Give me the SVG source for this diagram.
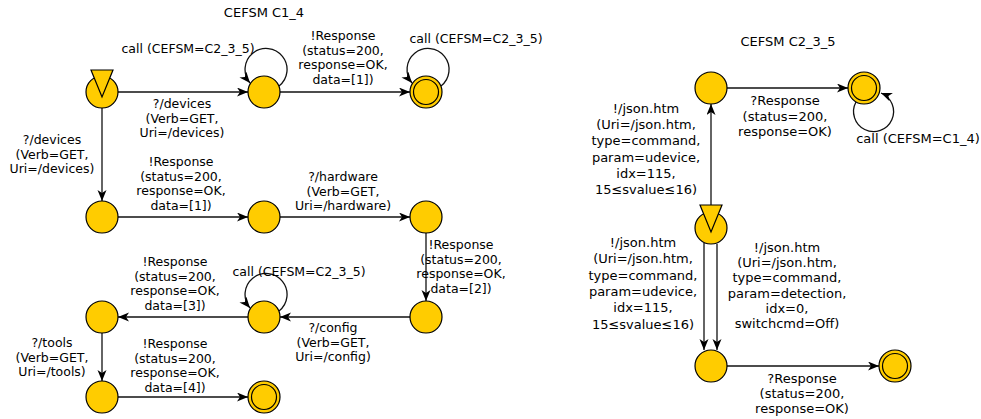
<svg xmlns="http://www.w3.org/2000/svg" width="981" height="419" viewBox="0 0 981 419">
  <style>
    .st { fill: #FFCC00; stroke: #000; stroke-width: 1.2; }
    .fin { fill: none; stroke: #000; stroke-width: 1.2; }
    .init { fill: #FFCC00; stroke: #000; stroke-width: 1.2; stroke-linejoin: miter; }
    .e { fill: none; stroke: #111; stroke-width: 1.3; marker-end: url(#arr); }
    text { font-family: "DejaVu Sans", "Liberation Sans", sans-serif; fill: #000; text-anchor: middle; }
    .t { font-size: 13px; }
    .l { font-size: 12.5px; }
    .r { font-size: 13px; }
  </style>
  <defs>
    <marker id="arr" markerUnits="userSpaceOnUse" markerWidth="12" markerHeight="10" refX="11" refY="4.5" orient="auto">
      <path d="M0,0 L11,4.5 L0,9 L3,4.5 z" fill="#000"/>
    </marker>
  </defs>
  <rect width="981" height="419" fill="#fff"/>

  <!-- titles -->
  <text class="t" x="264" y="17">CEFSM C1_4</text>
  <text class="t" x="788" y="46">CEFSM C2_3_5</text>

  <!-- connectors -->
  <g id="connectors">
    <!-- C1_4 -->
    <path class="e" d="M118,92 L248,92"/>
    <path class="e" d="M280,92 L410,92"/>
    <path class="e" d="M279,86 A21,21 0 1 0 250,83"/>
    <path class="e" d="M441,86 A21,21 0 1 0 412,83"/>
    <path class="e" d="M102,108 L102,201"/>
    <path class="e" d="M118,217 L248,217"/>
    <path class="e" d="M280,217 L410,217"/>
    <path class="e" d="M426,233 L426,301"/>
    <path class="e" d="M410,317 L280,317"/>
    <path class="e" d="M279,311 A21,21 0 1 0 250,308"/>
    <path class="e" d="M248,317 L118,317"/>
    <path class="e" d="M102,333 L102,381"/>
    <path class="e" d="M118,397 L248,397"/>
    <!-- C2_3_5 -->
    <path class="e" d="M727,88 L848,88"/>
    <path class="e" d="M856,102 A20,20 0 1 0 881,93"/>
    <path class="e" d="M711,212 L711,104"/>
    <path class="e" d="M704,243 L704,350"/>
    <path class="e" d="M717,244 L717,350"/>
    <path class="e" d="M727,366 L879,366"/>
  </g>

  <!-- edge labels, C1_4 -->
  <g id="labels-c1">
    <text class="l"><tspan x="182" y="108">?/devices</tspan><tspan x="182" dy="14.7">(Verb=GET,</tspan><tspan x="182" dy="14.7">Uri=/devices)</tspan></text>
    <text class="l" x="188" y="53">call (CEFSM=C2_3_5)</text>
    <text class="l"><tspan x="343" y="40">!Response</tspan><tspan x="343" dy="14.7">(status=200,</tspan><tspan x="343" dy="14.7">response=OK,</tspan><tspan x="343" dy="14.7">data=[1])</tspan></text>
    <text class="l" x="476" y="43">call (CEFSM=C2_3_5)</text>
    <text class="l"><tspan x="52" y="144">?/devices</tspan><tspan x="52" dy="14.7">(Verb=GET,</tspan><tspan x="52" dy="14.7">Uri=/devices)</tspan></text>
    <text class="l"><tspan x="181" y="166">!Response</tspan><tspan x="181" dy="14.7">(status=200,</tspan><tspan x="181" dy="14.7">response=OK,</tspan><tspan x="181" dy="14.7">data=[1])</tspan></text>
    <text class="l"><tspan x="343" y="181">?/hardware</tspan><tspan x="343" dy="14.7">(Verb=GET,</tspan><tspan x="343" dy="14.7">Uri=/hardware)</tspan></text>
    <text class="l"><tspan x="461" y="249">!Response</tspan><tspan x="461" dy="14.7">(status=200,</tspan><tspan x="461" dy="14.7">response=OK,</tspan><tspan x="461" dy="14.7">data=[2])</tspan></text>
    <text class="l"><tspan x="333" y="332">?/config</tspan><tspan x="333" dy="14.7">(Verb=GET,</tspan><tspan x="333" dy="14.7">Uri=/config)</tspan></text>
    <text class="l" x="299" y="276">call (CEFSM=C2_3_5)</text>
    <text class="l"><tspan x="175" y="266">!Response</tspan><tspan x="175" dy="14.7">(status=200,</tspan><tspan x="175" dy="14.7">response=OK,</tspan><tspan x="175" dy="14.7">data=[3])</tspan></text>
    <text class="l"><tspan x="52" y="347">?/tools</tspan><tspan x="52" dy="14.7">(Verb=GET,</tspan><tspan x="52" dy="14.7">Uri=/tools)</tspan></text>
    <text class="l"><tspan x="175" y="348">!Response</tspan><tspan x="175" dy="14.7">(status=200,</tspan><tspan x="175" dy="14.7">response=OK,</tspan><tspan x="175" dy="14.7">data=[4])</tspan></text>
  </g>

  <!-- edge labels, C2_3_5 -->
  <g id="labels-c2">
    <text class="r"><tspan x="785" y="105">?Response</tspan><tspan x="785" dy="15.5">(status=200,</tspan><tspan x="785" dy="15.5">response=OK)</tspan></text>
    <text class="r" x="918" y="143">call (CEFSM=C1_4)</text>
    <text class="r"><tspan x="646" y="113">!/json.htm</tspan><tspan x="646" dy="16.2">(Uri=/json.htm,</tspan><tspan x="646" dy="16.2">type=command,</tspan><tspan x="646" dy="16.2">param=udevice,</tspan><tspan x="646" dy="16.2">idx=115,</tspan><tspan x="646" dy="16.2">15≤svalue≤16)</tspan></text>
    <text class="r"><tspan x="643" y="247">!/json.htm</tspan><tspan x="643" dy="16.3">(Uri=/json.htm,</tspan><tspan x="643" dy="16.3">type=command,</tspan><tspan x="643" dy="16.3">param=udevice,</tspan><tspan x="643" dy="16.3">idx=115,</tspan><tspan x="643" dy="16.3">15≤svalue≤16)</tspan></text>
    <text class="r"><tspan x="787" y="252">!/json.htm</tspan><tspan x="787" dy="15.2">(Uri=/json.htm,</tspan><tspan x="787" dy="15.2">type=command,</tspan><tspan x="787" dy="15.2">param=detection,</tspan><tspan x="787" dy="15.2">idx=0,</tspan><tspan x="787" dy="15.2">switchcmd=Off)</tspan></text>
    <text class="r"><tspan x="802" y="383">?Response</tspan><tspan x="802" dy="15">(status=200,</tspan><tspan x="802" dy="15">response=OK)</tspan></text>
  </g>

  <!-- states, C1_4 -->
  <g id="c1-s0"><circle class="st" cx="102" cy="92" r="16"/><polygon class="init" points="91,70 113,70 102,97"/></g>
  <g id="c1-s1"><circle class="st" cx="264" cy="92" r="16"/></g>
  <g id="c1-s2"><circle class="st" cx="426" cy="92" r="16"/><circle class="fin" cx="426" cy="92" r="12.5"/></g>
  <g id="c1-s3"><circle class="st" cx="102" cy="217" r="16"/></g>
  <g id="c1-s4"><circle class="st" cx="264" cy="217" r="16"/></g>
  <g id="c1-s5"><circle class="st" cx="426" cy="217" r="16"/></g>
  <g id="c1-s6"><circle class="st" cx="426" cy="317" r="16"/></g>
  <g id="c1-s7"><circle class="st" cx="264" cy="317" r="16"/></g>
  <g id="c1-s8"><circle class="st" cx="102" cy="317" r="16"/></g>
  <g id="c1-s9"><circle class="st" cx="102" cy="397" r="16"/></g>
  <g id="c1-s10"><circle class="st" cx="264" cy="397" r="16"/><circle class="fin" cx="264" cy="397" r="12.5"/></g>

  <!-- states, C2_3_5 -->
  <g id="c2-s0"><circle class="st" cx="711" cy="228" r="16"/><polygon class="init" points="700,205 722,205 711,232"/></g>
  <g id="c2-s1"><circle class="st" cx="711" cy="88" r="16"/></g>
  <g id="c2-s2"><circle class="st" cx="864" cy="88" r="16"/><circle class="fin" cx="864" cy="88" r="12.5"/></g>
  <g id="c2-s3"><circle class="st" cx="711" cy="366" r="16"/></g>
  <g id="c2-s4"><circle class="st" cx="895" cy="366" r="16"/><circle class="fin" cx="895" cy="366" r="12.5"/></g>
</svg>
